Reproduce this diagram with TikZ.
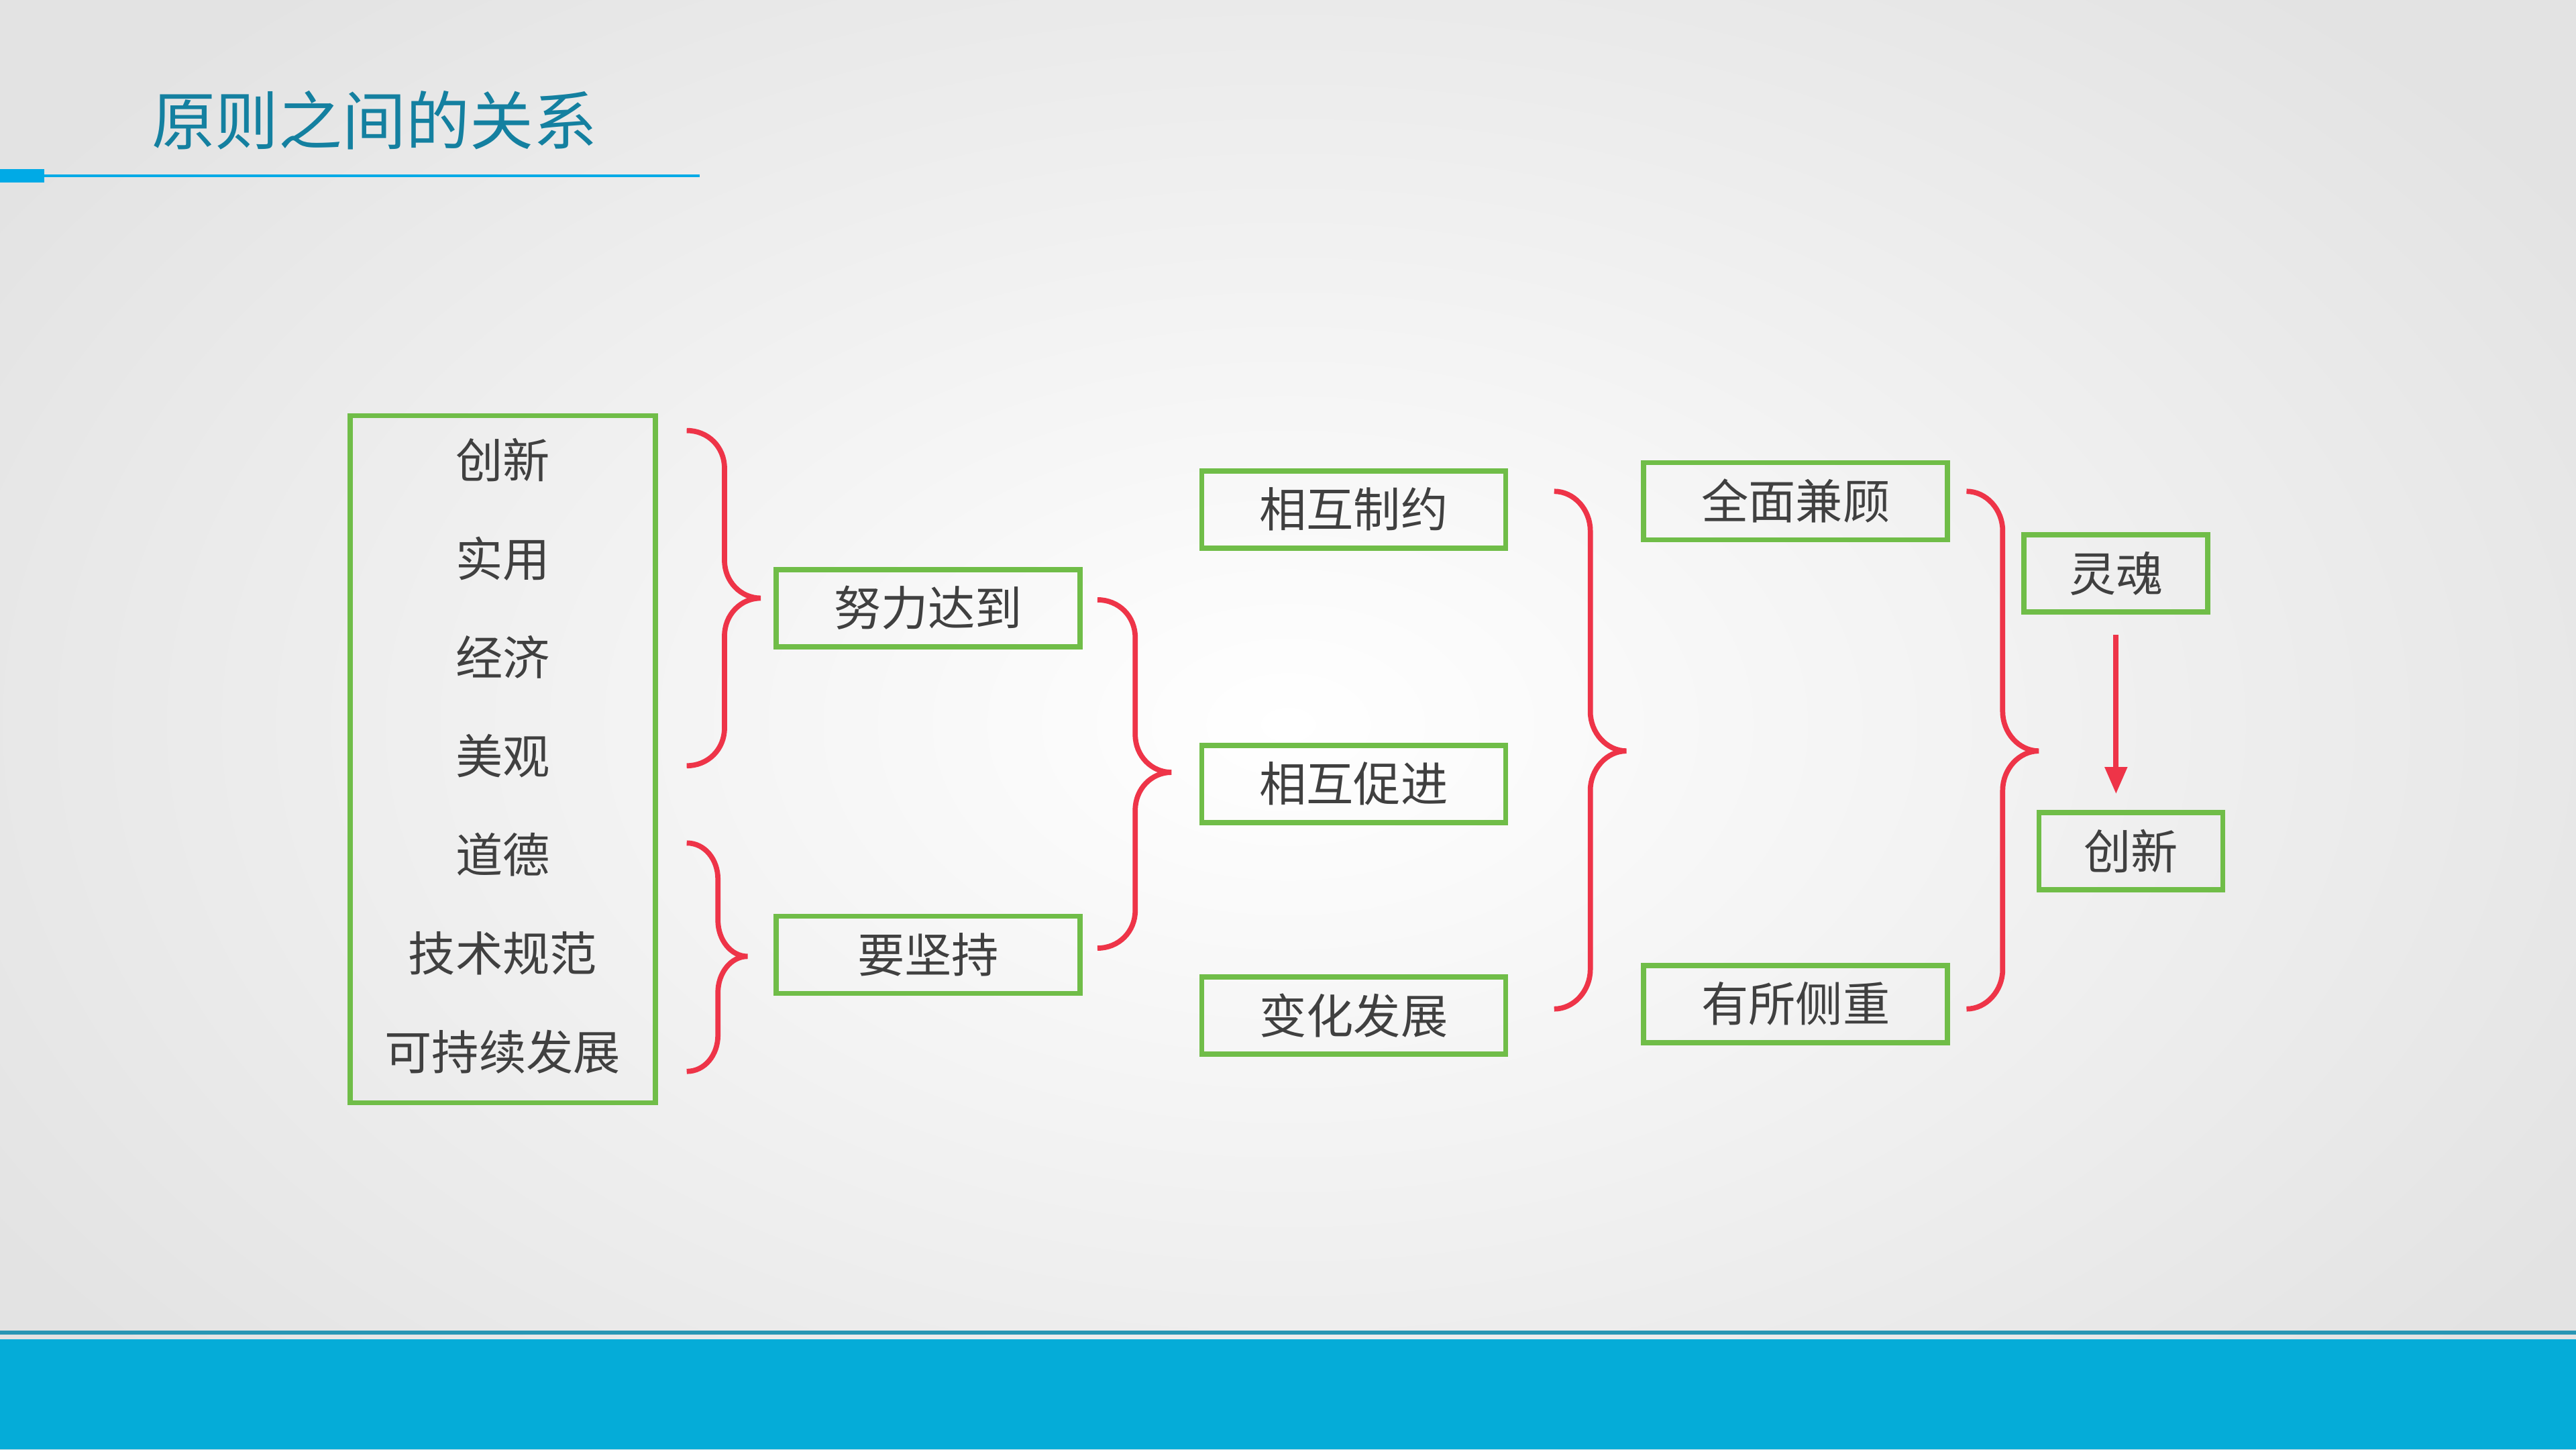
\documentclass[tikz,border=0pt]{standalone}
\usepackage{fontspec}
\newfontfamily\cjk{Noto Sans CJK SC}
\usetikzlibrary{arrows.meta, positioning, calc}

\definecolor{boxgreen}{RGB}{112,189,72}
\definecolor{bracered}{RGB}{238,52,72}
\definecolor{titleteal}{RGB}{20,128,160}
\definecolor{bandblue}{RGB}{5,172,216}
\definecolor{bandline}{RGB}{40,150,180}
\definecolor{rulecyan}{RGB}{0,170,230}
\definecolor{labelgray}{RGB}{64,64,64}

\begin{document}
\begin{tikzpicture}[
        x=0.02449cm, y=-0.02449cm,
        box/.style={rectangle, draw=boxgreen, line width=2.2pt, minimum width=4.53cm, minimum height=1.15cm, inner sep=0pt, text=labelgray, font=\cjk\fontsize{20}{24}\selectfont},
        smallbox/.style={box, minimum width=2.74cm},
        item/.style={text=labelgray, inner sep=0pt, font=\cjk\fontsize{20}{24}\selectfont},
        brace/.style={draw=bracered, line width=2.2pt},
        flow/.style={-{Triangle[length=0.4cm, width=0.32cm]}, draw=bracered, line width=2.2pt}
    ]
        % background and frame
        \useasboundingbox (0,0) rectangle (1568,882);
        \shade[inner color=white, outer color=black!11] (-150,-150) rectangle (1718,1032);
        \fill[bandblue] (0,815) rectangle (1568,882);
        \draw[bandline, line width=1.6pt] (0,811) -- (1568,811);
        \node[anchor=west, text=titleteal, inner sep=0pt, font=\cjk\fontsize{27}{32}\selectfont] (title) at (92,73) {原则之间的关系};
        \draw[rulecyan, line width=1pt] (0,107) -- (426,107);
        \fill[rulecyan] (0,103) rectangle (27,111);

        % list of principles
        \node[box, minimum width=4.555cm, minimum height=10.24cm] (list) at (306,462) {};
        \node[item] (chuangxin) at (306,280) {创新};
        \node[item] (shiyong) at (306,340) {实用};
        \node[item] (jingji) at (306,400) {经济};
        \node[item] (meiguan) at (306,460) {美观};
        \node[item] (daode) at (306,520) {道德};
        \node[item] (guifan) at (306,580) {技术规范};
        \node[item] (fazhan) at (306,640) {可持续发展};

        % relation boxes
        \node[box] (effort) at (565,370) {努力达到};
        \node[box] (persist) at (565,581) {要坚持};
        \node[box] (restrain) at (824,310) {相互制约};
        \node[box] (promote) at (824,477) {相互促进};
        \node[box] (change) at (824,618) {变化发展};
        \node[box] (overall) at (1093,305) {全面兼顾};
        \node[box] (focus) at (1093,611) {有所侧重};
        \node[smallbox] (soul) at (1288,349) {灵魂};
        \node[smallbox] (core) at (1297,518) {创新};

        % braces
        \draw[brace] (418,262) .. controls (431,262) and (441,272) .. (441,285) -- (441,341) .. controls (441,354) and (451,364) .. (463,364) .. controls (451,364) and (441,374) .. (441,387) -- (441,443) .. controls (441,456) and (431,466) .. (418,466);
        \draw[brace] (418,513) .. controls (429,513) and (437,523) .. (437,535) -- (437,560) .. controls (437,572) and (445,582) .. (455,582) .. controls (445,582) and (437,592) .. (437,604) -- (437,630) .. controls (437,642) and (429,652) .. (418,652);
        \draw[brace] (668,365) .. controls (681,365) and (691,375) .. (691,388) -- (691,447) .. controls (691,460) and (701,470) .. (713,470) .. controls (701,470) and (691,480) .. (691,493) -- (691,554) .. controls (691,567) and (681,577) .. (668,577);
        \draw[brace] (946,299) .. controls (958,299) and (968,310) .. (968,323) -- (968,433) .. controls (968,446) and (978,457) .. (990,457) .. controls (978,457) and (968,468) .. (968,481) -- (968,590) .. controls (968,603) and (958,614) .. (946,614);
        \draw[brace] (1197,299) .. controls (1209,299) and (1219,310) .. (1219,323) -- (1219,433) .. controls (1219,446) and (1229,457) .. (1241,457) .. controls (1229,457) and (1219,468) .. (1219,481) -- (1219,590) .. controls (1219,603) and (1209,614) .. (1197,614);

        % arrow
        \draw[flow] ([yshift=-0.3cm]soul.south) -- ([yshift=0.24cm]soul.south |- core.north);
    \end{tikzpicture}
\end{document}
